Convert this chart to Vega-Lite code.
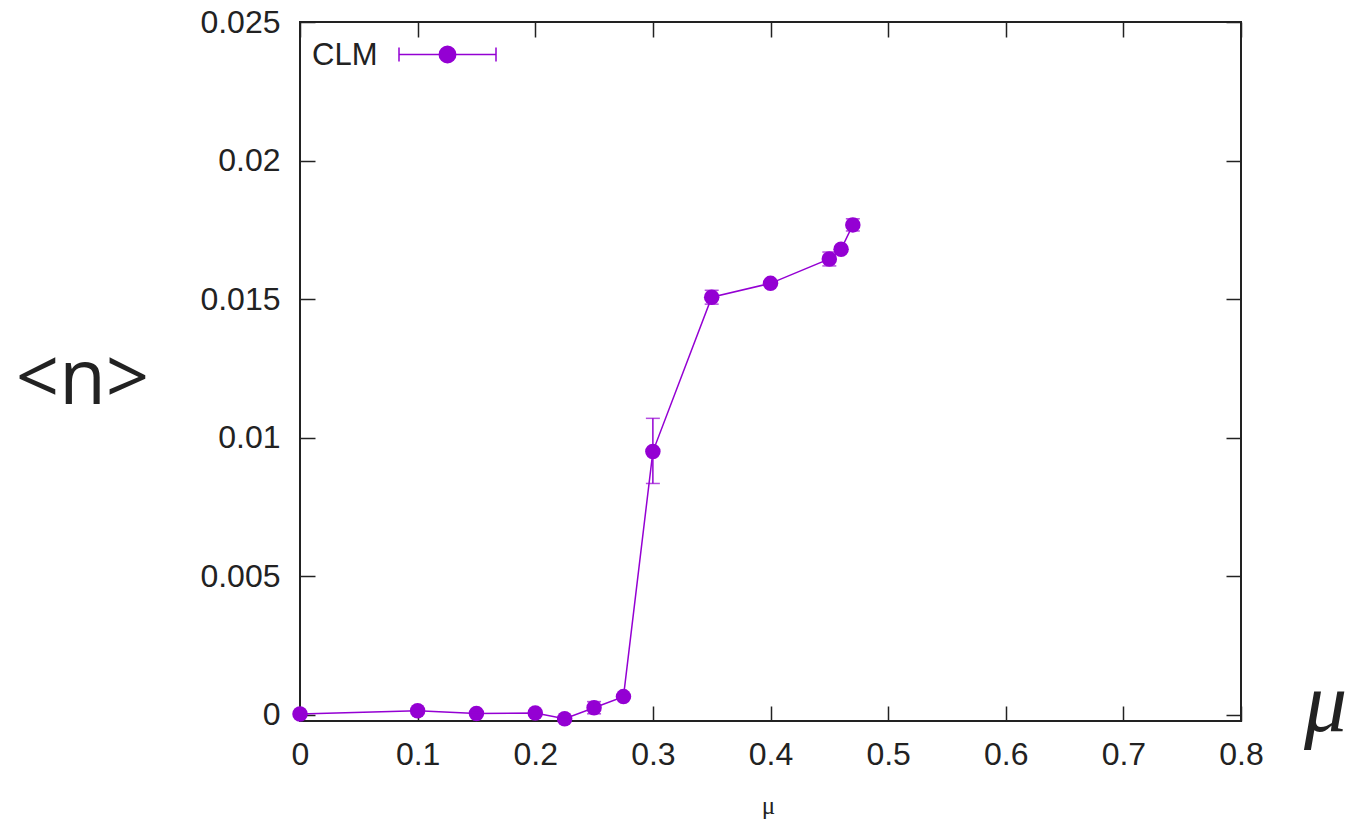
{
  "$schema": "https://vega.github.io/schema/vega-lite/v6.json",
  "width": 941,
  "height": 699,
  "autosize": "none",
  "padding": {"left": 300, "top": 22, "right": 112, "bottom": 101},
  "background": "white",
  "config": {
    "view": {"stroke": "#222", "strokeWidth": 2},
    "axis": {
      "grid": false,
      "domain": false,
      "tickColor": "#222",
      "tickWidth": 1.5,
      "tickSize": -15,
      "labelFont": "Liberation Sans",
      "labelFontSize": 32,
      "labelColor": "#222",
      "titleColor": "#222",
      "titleFontWeight": "normal"
    }
  },
  "data": {
    "values": [
      {"mu": 0, "n": 0.00003, "lo": 0.00001, "hi": 0.00005, "series": "CLM"},
      {"mu": 0.1, "n": 0.00015, "lo": 0.00012, "hi": 0.00018, "series": "CLM"},
      {"mu": 0.15, "n": 0.00005, "lo": 0.00002, "hi": 0.00008, "series": "CLM"},
      {"mu": 0.2, "n": 0.00007, "lo": 0.00004, "hi": 0.0001, "series": "CLM"},
      {"mu": 0.225, "n": -0.00014, "lo": -0.00017, "hi": -0.00011, "series": "CLM"},
      {"mu": 0.25, "n": 0.00026, "lo": 0.00004, "hi": 0.00048, "series": "CLM"},
      {"mu": 0.275, "n": 0.00066, "lo": 0.00061, "hi": 0.00071, "series": "CLM"},
      {"mu": 0.3, "n": 0.0095, "lo": 0.00835, "hi": 0.0107, "series": "CLM"},
      {"mu": 0.35, "n": 0.01507, "lo": 0.01482, "hi": 0.01532, "series": "CLM"},
      {"mu": 0.4, "n": 0.01557, "lo": 0.01552, "hi": 0.01562, "series": "CLM"},
      {"mu": 0.45, "n": 0.01645, "lo": 0.0162, "hi": 0.0167, "series": "CLM"},
      {"mu": 0.46, "n": 0.0168, "lo": 0.01672, "hi": 0.01688, "series": "CLM"},
      {"mu": 0.47, "n": 0.01768, "lo": 0.01746, "hi": 0.0179, "series": "CLM"}
    ]
  },
  "layer": [
    {
      "encoding": {
        "x": {
          "field": "mu", "type": "quantitative",
          "scale": {"domain": [0, 0.8], "nice": false, "zero": false},
          "axis": {
            "orient": "bottom",
            "values": [0, 0.1, 0.2, 0.3, 0.4, 0.5, 0.6, 0.7, 0.8],
            "format": "~g",
            "labelPadding": 33,
            "labelFlush": false,
            "title": "μ",
            "titleFont": "Liberation Serif",
            "titleFontSize": 25,
            "titleX": 468,
            "titleY": 92,
            "titleAlign": "center",
            "titleBaseline": "alphabetic"
          }
        },
        "y": {
          "field": "n", "type": "quantitative",
          "scale": {"domain": [-0.00022, 0.025], "nice": false, "zero": false},
          "axis": {
            "orient": "left",
            "values": [0, 0.005, 0.01, 0.015, 0.02, 0.025],
            "format": "~g",
            "labelPadding": 35,
            "labelFlush": false,
            "title": "<n>",
            "titleAngle": 0,
            "titleFont": "Open Sans",
            "titleFontWeight": "normal",
            "titleFontSize": 76,
            "titleX": -218,
            "titleY": 358,
            "titleAlign": "center",
            "titleBaseline": "middle"
          }
        }
      },
      "layer": [
        {
          "mark": {"type": "line", "color": "#9400D3", "strokeWidth": 1.5}
        },
        {
          "mark": {"type": "point", "filled": true, "shape": "circle", "size": 240, "opacity": 1},
          "encoding": {
            "color": {
              "field": "series", "type": "nominal",
              "scale": {"range": ["#9400D3"]},
              "legend": {
                "orient": "none",
                "legendX": 12,
                "legendY": -17,
                "title": "CLM",
                "titleOrient": "left",
                "titleAnchor": "middle",
                "titleFont": "Liberation Sans",
                "titleFontSize": 31,
                "titleFontWeight": "normal",
                "titleColor": "#222",
                "titlePadding": 20,
                "titleBaseline": "middle",
                "labelExpr": "''",
                "padding": 0,
                "symbolSize": 9409,
                "symbolType": "M0,-1M0,1M-1,0H1M-1,-0.144V0.144M1,-0.144V0.144M0.17,0A0.17,0.17,0,1,1,-0.17,0A0.17,0.17,0,1,1,0.17,0Z",
                "symbolFillColor": "#9400D3",
                "symbolStrokeColor": "#9400D3",
                "symbolStrokeWidth": 1.5,
                "symbolOpacity": 1
              }
            }
          }
        }
      ]
    },
    {
      "encoding": {
        "x": {
          "field": "mu", "type": "quantitative",
          "scale": {"domain": [0, 0.8], "nice": false, "zero": false},
          "axis": {
            "orient": "top",
            "values": [0, 0.1, 0.2, 0.3, 0.4, 0.5, 0.6, 0.7, 0.8],
            "labels": false,
            "title": "μ",
            "titleFont": "Liberation Serif",
            "titleFontStyle": "italic",
            "titleFontSize": 86,
            "titleX": 1025,
            "titleY": 708,
            "titleAlign": "center",
            "titleBaseline": "alphabetic"
          }
        },
        "y": {
          "field": "lo", "type": "quantitative",
          "scale": {"domain": [-0.00022, 0.025], "nice": false, "zero": false},
          "axis": {
            "orient": "right",
            "values": [0, 0.005, 0.01, 0.015, 0.02, 0.025],
            "labels": false,
            "title": null
          }
        }
      },
      "layer": [
        {
          "mark": {"type": "rule", "color": "#9400D3", "strokeWidth": 1.5},
          "encoding": {"y2": {"field": "hi"}}
        },
        {
          "mark": {"type": "tick", "orient": "horizontal", "color": "#9400D3", "size": 14, "thickness": 1.5}
        },
        {
          "mark": {"type": "tick", "orient": "horizontal", "color": "#9400D3", "size": 14, "thickness": 1.5},
          "encoding": {"y": {"field": "hi", "type": "quantitative"}}
        }
      ]
    }
  ],
  "resolve": {"axis": {"x": "independent", "y": "independent"}}
}
